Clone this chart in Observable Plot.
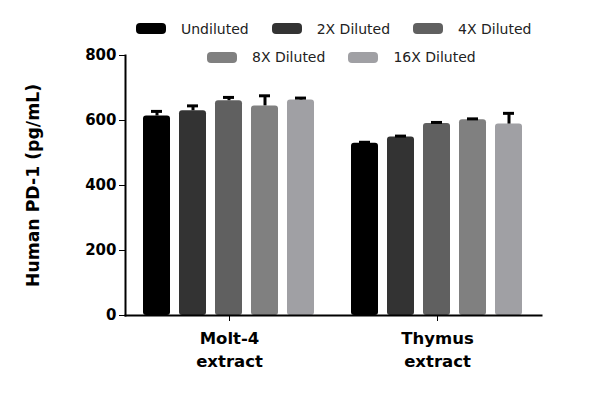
<!DOCTYPE html>
<html>
<head>
<meta charset="utf-8">
<script src="https://cdn.jsdelivr.net/npm/d3@7"></script>
<script src="https://cdn.jsdelivr.net/npm/@observablehq/plot@0.6"></script>
<style>
  html, body { margin: 0; padding: 0; background: #fff; }
  #wrap { position: relative; width: 600px; height: 397px; }
  #legend { position: absolute; left: 0; top: 0; width: 600px; font-family: "DejaVu Sans", sans-serif; font-size: 14px; color: #222; }
  .row { position: absolute; display: flex; align-items: center; height: 16px; white-space: nowrap; }
  .item { display: flex; align-items: center; margin-right: 23px; }
  .sw { width: 30px; height: 11px; border-radius: 4px; margin-right: 15px; }
</style>
</head>
<body>
<div id="wrap"><div id="legend"></div></div>
<script>
const groups = ["Molt-4 extract", "Thymus extract"];
const dilutions = ["Undiluted", "2X Diluted", "4X Diluted", "8X Diluted", "16X Diluted"];
const colors = ["#000000", "#333333", "#606060", "#808080", "#a0a0a4"];
const molt4Values = [614, 630, 661, 645, 663];
const molt4Errors = [14, 15, 10, 31, 6];
const thymusValues = [530, 549, 591, 602, 589];
const thymusErrors = [3, 3, 3, 3, 33];
const yTicks = [0, 200, 400, 600, 800];
const yLabel = "Human PD-1 (pg/mL)";
const legendRows = [[0, 1, 2], [3, 4]];

const values = [molt4Values, thymusValues];
const errors = [molt4Errors, thymusErrors];
const rows = groups.flatMap((g, gi) => dilutions.map((d, di) => ({
  group: g, dilution: d, value: values[gi][di], error: errors[gi][di]
})));

const bold = {fontFamily: "DejaVu Sans", fontWeight: "bold"};

const chart = Plot.plot({
  width: 600,
  height: 397,
  marginLeft: 125,
  marginRight: 59,
  marginTop: 55,
  marginBottom: 82,
  style: {fontFamily: "DejaVu Sans", background: "transparent", color: "#000"},
  fx: {domain: groups, paddingInner: 0, paddingOuter: 0, axis: null, label: null},
  x: {domain: dilutions, paddingInner: 0.238, paddingOuter: 0.449, axis: null},
  y: {domain: [0, 800], axis: null},
  color: {domain: dilutions, range: colors},
  marks: [
    Plot.barY(rows, {fx: "group", x: "dilution", y: "value", fill: "dilution", rx: 3}),
    Plot.ruleX(rows, {fx: "group", x: "dilution", y1: "value", y2: d => d.value + d.error, stroke: "#000", strokeWidth: 3}),
    Plot.tickY(rows, {fx: "group", x: "dilution", y: d => d.value + d.error, stroke: "#000", strokeWidth: 3, insetLeft: 8, insetRight: 8}),
    Plot.frame({anchor: "left", facet: "super", stroke: "#000", strokeWidth: 2}),
    Plot.frame({anchor: "bottom", facet: "super", stroke: "#000", strokeWidth: 2}),
    Plot.axisY({ticks: yTicks, tickSize: 6, tickPadding: 3, tickWidth: 2, fontSize: 15, ...bold, label: null}),
    Plot.axisFx({anchor: "bottom", tickSize: 6, tickPadding: 6, fontSize: 16.5, lineHeight: 1.4, ...bold, label: null, tickFormat: d => d.replace(" ", "\n")}),
    Plot.text([yLabel], {frameAnchor: "left", textAnchor: "middle", lineAnchor: "middle", rotate: -90, dx: -92, fontSize: 17.3, ...bold, facet: "super", fill: "#000"})
  ]
});
document.getElementById("wrap").prepend(chart);

const legend = document.getElementById("legend");
const rowPos = [{left: 136, top: 20.5}, {left: 207, top: 49}];
legendRows.forEach((idxs, ri) => {
  const row = document.createElement("div");
  row.className = "row";
  row.style.left = rowPos[ri].left + "px";
  row.style.top = rowPos[ri].top + "px";
  idxs.forEach(i => {
    const item = document.createElement("div");
    item.className = "item";
    const sw = document.createElement("div");
    sw.className = "sw";
    sw.style.background = colors[i];
    const t = document.createElement("span");
    t.textContent = dilutions[i];
    item.append(sw, t);
    row.append(item);
  });
  legend.append(row);
});
</script>
</body>
</html>
